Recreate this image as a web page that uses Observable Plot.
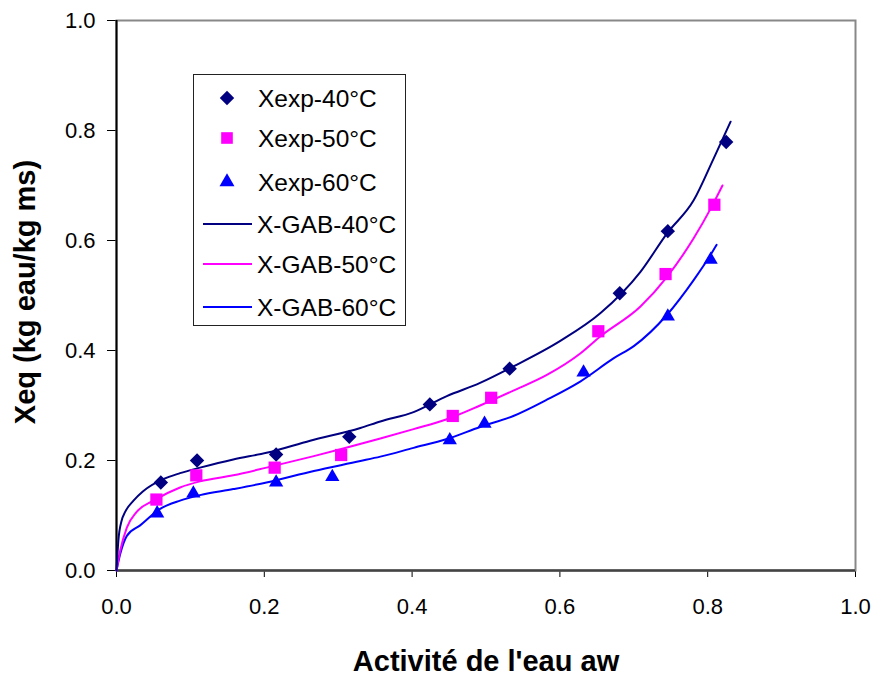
<!DOCTYPE html>
<html>
<head>
<meta charset="utf-8">
<script src="https://cdn.jsdelivr.net/npm/d3@7"></script>
<script src="https://cdn.jsdelivr.net/npm/@observablehq/plot@0.6"></script>
<style>
  html, body { margin: 0; padding: 0; background: white; }
  #wrap { position: relative; width: 878px; height: 677px; }
  #legend { position: absolute; left: 193px; top: 74px; }
</style>
</head>
<body>
<div id="wrap"></div>
<script>
// ---- Data ----
const xTicks = [0, 0.2, 0.4, 0.6, 0.8, 1.0];
const yTicks = [0, 0.2, 0.4, 0.6, 0.8, 1.0];
const xTitle = ["Activité de l'eau aw"];
const yTitle = ["Xeq (kg eau/kg ms)"];

// experimental points
const exp40Aw = [0.060, 0.109, 0.216, 0.315, 0.424, 0.532, 0.681, 0.746, 0.825];
const exp40X  = [0.160, 0.200, 0.211, 0.243, 0.302, 0.367, 0.504, 0.617, 0.779];
const exp50Aw = [0.054, 0.108, 0.214, 0.304, 0.455, 0.507, 0.652, 0.743, 0.809];
const exp50X  = [0.129, 0.173, 0.187, 0.210, 0.281, 0.314, 0.435, 0.539, 0.665];
const exp60Aw = [0.055, 0.104, 0.216, 0.292, 0.451, 0.498, 0.632, 0.746, 0.804];
const exp60X  = [0.104, 0.140, 0.160, 0.170, 0.237, 0.267, 0.360, 0.462, 0.565];

// GAB model curves [aw, X]
const gab40 = [[0,0],[0.0025,0.054],[0.007,0.091],[0.0115,0.106],[0.023,0.127],[0.036,0.144],[0.063,0.166],[0.086,0.177],[0.113,0.187],[0.158,0.202],[0.203,0.214],[0.262,0.236],[0.330,0.259],[0.357,0.271],[0.402,0.288],[0.447,0.317],[0.492,0.341],[0.537,0.371],[0.600,0.417],[0.655,0.468],[0.709,0.543],[0.745,0.613],[0.781,0.673],[0.808,0.749],[0.831,0.816]];
const gab50 = [[0,0],[0.005,0.036],[0.014,0.078],[0.027,0.106],[0.050,0.127],[0.086,0.151],[0.113,0.162],[0.158,0.173],[0.203,0.187],[0.267,0.208],[0.357,0.240],[0.402,0.257],[0.447,0.275],[0.492,0.300],[0.537,0.327],[0.583,0.356],[0.628,0.395],[0.655,0.426],[0.709,0.480],[0.745,0.534],[0.781,0.604],[0.804,0.658],[0.820,0.700]];
const gab60 = [[0,0],[0.005,0.030],[0.014,0.063],[0.032,0.082],[0.059,0.112],[0.086,0.127],[0.113,0.137],[0.158,0.148],[0.203,0.160],[0.267,0.181],[0.330,0.199],[0.357,0.207],[0.402,0.223],[0.447,0.239],[0.492,0.261],[0.537,0.281],[0.583,0.311],[0.628,0.344],[0.673,0.386],[0.700,0.408],[0.745,0.465],[0.781,0.528],[0.804,0.574],[0.812,0.592]];

const legendLabels = ["Xexp-40°C", "Xexp-50°C", "Xexp-60°C", "X-GAB-40°C", "X-GAB-50°C", "X-GAB-60°C"];

// ---- Styles ----
const C40 = "#000080", C50 = "#ff00ff", C60 = "#0000ff";
const R40 = 6.5, R50 = 6.9, R60 = 5.3;
const FONT = "'Liberation Sans', Arial, Helvetica, sans-serif";

const pts = (aw, x) => aw.map((a, i) => ({aw: a, X: x[i]}));

const chart = Plot.plot({
  width: 878,
  height: 677,
  marginLeft: 116,
  marginRight: 23,
  marginTop: 20,
  marginBottom: 107,
  style: {fontFamily: FONT, fontSize: "22px", color: "#000", background: "white", overflow: "visible"},
  x: {domain: [0, 1], ticks: xTicks, tickFormat: d => d.toFixed(1), tickSize: 7, tickPadding: 21, label: null},
  y: {domain: [0, 1], ticks: yTicks, tickFormat: d => d.toFixed(1), tickSize: 9, tickPadding: 12, label: null},
  marks: [
    Plot.frame({stroke: "#888", strokeWidth: 2}),
    Plot.ruleX([0], {stroke: "#000", strokeWidth: 2}),
    Plot.ruleY([0], {stroke: "#444", strokeWidth: 2.5}),
    Plot.line(gab60, {x: d => d[0], y: d => d[1], stroke: C60, strokeWidth: 2, curve: "monotone-x"}),
    Plot.line(gab50, {x: d => d[0], y: d => d[1], stroke: C50, strokeWidth: 2, curve: "monotone-x"}),
    Plot.line(gab40, {x: d => d[0], y: d => d[1], stroke: C40, strokeWidth: 2, curve: "monotone-x"}),
    Plot.dot(pts(exp40Aw, exp40X), {x: "aw", y: "X", symbol: "diamond2", r: R40, fill: C40}),
    Plot.dot(pts(exp50Aw, exp50X), {x: "aw", y: "X", symbol: "square", r: R50, fill: C50}),
    Plot.dot(pts(exp60Aw, exp60X), {x: "aw", y: "X", symbol: "triangle", r: R60, fill: C60}),
    Plot.text(xTitle, {text: d => d, frameAnchor: "bottom", textAnchor: "middle", lineAnchor: "bottom", dy: 100, fontSize: 29, fontWeight: "bold", fill: "#000"}),
    Plot.text(yTitle, {text: d => d, frameAnchor: "left", textAnchor: "middle", rotate: -90, lineAnchor: "bottom", dx: -82, dy: -3.5, fontSize: 29, fontWeight: "bold", fill: "#000"})
  ]
});
document.getElementById("wrap").appendChild(chart);

// ---- Legend (inside plot area) ----
const lw = 213, lh = 252;
const rowY = [24, 64, 108, 150, 190, 233];
const lg = d3.select("#wrap").append("svg")
  .attr("id", "legend").attr("width", lw).attr("height", lh)
  .style("font-family", FONT).style("font-size", "24.5px");
lg.append("rect").attr("x", 0.5).attr("y", 0.5).attr("width", lw - 1).attr("height", lh - 1)
  .attr("fill", "white").attr("stroke", "#222").attr("stroke-width", 1);
const syms = [
  {type: d3.symbolDiamond2, r: R40, c: C40},
  {type: d3.symbolSquare, r: R50 * 0.95, c: C50},
  {type: d3.symbolTriangle, r: R60 * 1.05, c: C60}
];
syms.forEach((s, i) => {
  lg.append("path")
    .attr("d", d3.symbol().type(s.type).size(Math.PI * s.r * s.r)())
    .attr("transform", `translate(34,${rowY[i]})`)
    .attr("fill", s.c);
});
[C40, C50, C60].forEach((c, i) => {
  lg.append("line").attr("x1", 10).attr("x2", 59)
    .attr("y1", rowY[i + 3]).attr("y2", rowY[i + 3])
    .attr("stroke", c).attr("stroke-width", 2);
});
legendLabels.forEach((t, i) => {
  lg.append("text").attr("x", i < 3 ? 65 : 64).attr("y", rowY[i] + 8.5)
    .attr("fill", "#000").text(t);
});
</script>
</body>
</html>
